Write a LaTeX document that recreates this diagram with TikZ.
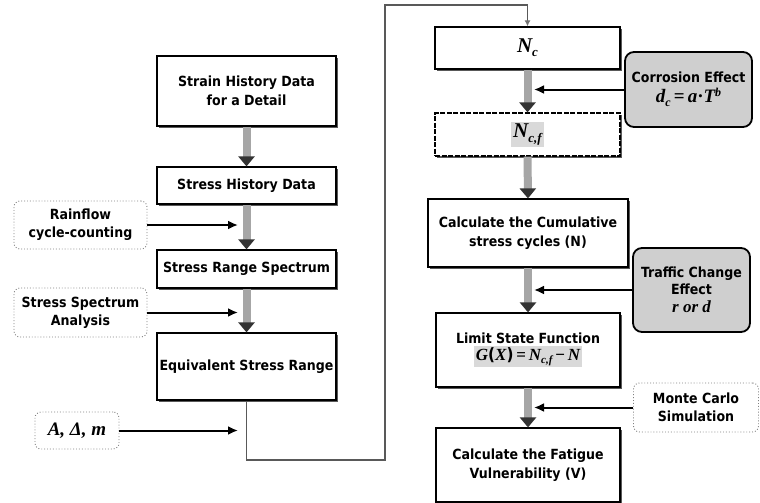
\documentclass[tikz,border=0pt]{standalone}
\usepackage{fontspec}
\setmainfont{DejaVu Sans Condensed}
\newfontfamily\ser{Liberation Serif}
\usetikzlibrary{shadows,arrows.meta}
\newcommand\mi[1]{{\ser\bfseries\itshape #1}}
\newcommand\sbs[2][11]{\raisebox{-0.35ex}{\fontsize{#1}{#1}\selectfont\mi{#2}}}
\tikzset{
  x=1pt, y=-1pt,
  box/.style={draw=black, line width=1.2pt, fill=white, align=center, inner sep=2pt,
    font=\bfseries\fontsize{14}{19}\selectfont,
    drop shadow={shadow xshift=1.6pt, shadow yshift=-1.6pt, fill=black!65, opacity=1}},
  inbox/.style={draw=black!50, dotted, line width=0.9pt, rounded corners=6pt, align=center,
    inner sep=2pt, font=\bfseries\fontsize{14}{18}\selectfont},
  effbox/.style={draw=black, line width=1.8pt, rounded corners=9pt, fill=gray!38, align=center,
    inner sep=2pt, font=\bfseries\fontsize{14}{17}\selectfont},
  fatar/.style={line width=8pt, draw=gray!70, -{Triangle[width=16pt,length=10pt,color=black!80]}},
  thinar/.style={line width=2pt, draw=black, -{Latex[length=10pt,width=9pt]}},
  conn/.style={line width=1.2pt, draw=black!65, -{Latex[length=6pt,width=6pt,color=black!55]}}
}
\begin{document}
\begin{tikzpicture}
\useasboundingbox[fill=white] (0,0) rectangle (760,503);
% left column
\node[box, minimum width=179pt, minimum height=70pt] (strain) at (246.5,91) {Strain History Data\\for a Detail};
\node[box, minimum width=179pt, minimum height=37pt] (shd) at (246.5,185.5) {Stress History Data};
\node[box, minimum width=179pt, minimum height=38pt] (srs) at (246.5,269) {Stress Range Spectrum};
\node[box, minimum width=179pt, minimum height=67pt] (esr) at (246.5,366.5) {Equivalent Stress Range};
\node[inbox, minimum width=133pt, minimum height=48pt] (rain) at (80.5,225) {Rainflow\\cycle-counting};
\node[inbox, minimum width=133pt, minimum height=49pt] (ssa) at (80.5,312.5) {Stress Spectrum\\Analysis};
\node[inbox, minimum width=84pt, minimum height=37pt] (adm) at (77,430.5) {\fontsize{19}{21}\selectfont\mi{A, Δ, m}};
% right column
\node[box, minimum width=185pt, minimum height=42pt] (nc) at (527.5,48) {\fontsize{21}{23}\selectfont\mi{N}\sbs[13]{c}};
\node[box, dash pattern=on 5pt off 1.5pt, minimum width=185pt, minimum height=43pt] (ncf) at (527.5,134.5) {\fontsize{21}{23}\selectfont\setlength{\fboxsep}{2pt}\colorbox{gray!30}{\mi{N}\sbs[13]{c,f}}};
\node[box, minimum width=200pt, minimum height=68pt] (cum) at (528,233) {Calculate the Cumulative\\stress cycles (N)};
\node[box, minimum width=184pt, minimum height=74pt] (lsf) at (528,350) {Limit State Function\\[-2pt]{\fontsize{17}{19}\selectfont\setlength{\fboxsep}{1.5pt}\colorbox{gray!30}{\mi{G}(\mi{X})\,{\ser\bfseries=}\,\mi{N}\sbs{c,f}\,{\ser\bfseries −}\,\mi{N}}}};
\node[box, minimum width=184pt, minimum height=74pt] (fv) at (528,465) {Calculate the Fatigue\\Vulnerability (V)};
\node[effbox, minimum width=127pt, minimum height=75pt] (corr) at (688.5,89.5) {Corrosion Effect\\[3pt]{\fontsize{19}{21}\selectfont\mi{d}\sbs[12]{c}\,{\ser\bfseries =}\,\mi{a}{\ser\bfseries·}\mi{T}\raisebox{0.6ex}{\fontsize{12}{12}\selectfont\mi{b}}}};
\node[effbox, minimum width=117pt, minimum height=84pt] (traf) at (691.5,290) {Traffic Change\\Effect\\[1pt]{\fontsize{17}{18}\selectfont\mi{r or d}}};
\node[inbox, minimum width=125pt, minimum height=49pt] (mc) at (696,407.5) {Monte Carlo\\Simulation};
% fat arrows
\draw[fatar] (strain.south) -- (shd.north);
\draw[fatar] (shd.south) -- (srs.north);
\draw[fatar] (srs.south) -- (esr.north);
\draw[fatar] (nc.south) -- (ncf.north);
\draw[fatar] (ncf.south) -- (cum.north);
\draw[fatar] (cum.south) -- (lsf.north);
\draw[fatar] (lsf.south) -- (fv.north);
% side inputs
\coordinate (t1) at (238,225);
\coordinate (t2) at (238,312.5);
\coordinate (t3) at (238,430.5);
\coordinate (t4) at (534,89.5);
\coordinate (t5) at (534,290);
\coordinate (t6) at (534,407.5);
\draw[thinar] (rain.east) -- (t1);
\draw[thinar] (ssa.east) -- (t2);
\draw[thinar] (adm.east) -- (t3);
\draw[thinar] (corr.west) -- (t4);
\draw[thinar] (traf.west) -- (t5);
\draw[thinar] (mc.west) -- (t6);
% loop connector
\coordinate (c1) at (385,460);
\coordinate (c2) at (385,5);
\draw[conn] (esr.south) |- (c1) -- (c2) -| (nc.north);
\end{tikzpicture}
\end{document}
